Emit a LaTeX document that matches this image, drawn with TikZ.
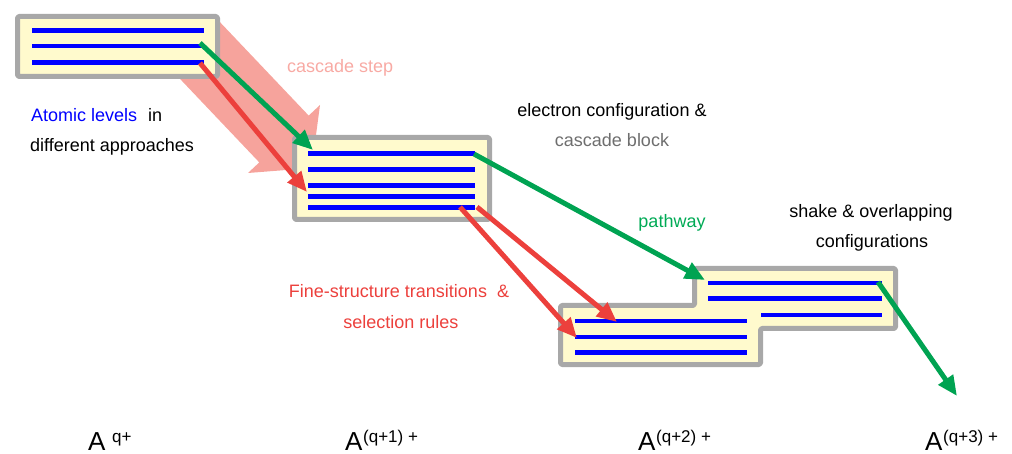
\documentclass[tikz,border=0pt]{standalone}
\usepackage{fontspec}
\setmainfont{Liberation Sans}
\usetikzlibrary{arrows.meta}
\definecolor{boxfill}{RGB}{255,250,205}
\definecolor{boxgray}{RGB}{168,168,168}
\definecolor{lvlblue}{RGB}{0,0,255}
\definecolor{pathgreen}{RGB}{0,163,82}
\definecolor{transred}{RGB}{236,64,60}
\definecolor{cascpink}{RGB}{246,163,156}
\definecolor{casctext}{RGB}{248,170,164}
\definecolor{blocktext}{RGB}{110,110,110}
\definecolor{pathtext}{RGB}{0,170,85}
\tikzset{
  cfgbox/.style={fill=boxfill, draw=boxgray, line width=5pt, rounded corners=1.5pt, line join=round},
  level/.style={draw=lvlblue, line width=4.5pt},
  greenarrow/.style={draw=pathgreen, line width=5pt, -{Triangle[length=20pt,width=17pt]}},
  redarrow/.style={draw=transred, line width=5pt, -{Triangle[length=20pt,width=17pt]}},
  lbl/.style={font=\fontsize{18}{22}\selectfont, inner sep=0pt, anchor=base},
  ionA/.style={font=\fontsize{26}{30}\selectfont, inner sep=0pt, anchor=base west},
  ionsup/.style={font=\fontsize{17}{20}\selectfont, inner sep=0pt, anchor=base west}
}
\begin{document}
\begin{tikzpicture}[x=1pt,y=-1pt]
\useasboundingbox (0,0) rectangle (1012,454);
% cascade step (wide pink arrow)
\fill[cascpink] (214.7,16.6) -- (308.7,115.6) -- (320,105) -- (311.6,168) -- (248,173) -- (259.3,162.4) -- (165.3,63.4) -- cycle;
% boxes
\path[cfgbox] (17.5,16.5) rectangle (217.5,76.5);
\path[cfgbox] (294.5,137.5) rectangle (489.5,219.5);
\path[cfgbox] (560.5,305.5) -- (694.5,305.5) -- (694.5,268.5) -- (895.5,268.5) -- (895.5,328.5) -- (760.5,328.5) -- (760.5,364.5) -- (560.5,364.5) -- cycle;
% levels box 1
\draw[level] (32,30.5) -- (204,30.5);
\draw[level] (32,46) -- (204,46);
\draw[level] (32,62.5) -- (204,62.5);
% levels box 2
\draw[level] (308,153.5) -- (475,153.5);
\draw[level] (308,169.3) -- (475,169.3);
\draw[level] (308,185.3) -- (475,185.3);
\draw[level] (308,196.3) -- (475,196.3);
\draw[level] (308,207.3) -- (475,207.3);
% levels box 3
\draw[level] (575,321) -- (747,321);
\draw[level] (575,337) -- (747,337);
\draw[level] (575,352.5) -- (747,352.5);
\draw[level] (708,283) -- (882,283);
\draw[level] (708,298.5) -- (882,298.5);
\draw[level] (761,315) -- (882,315);
% connector end points
\coordinate (g1s) at (200,43);
\coordinate (g1e) at (313,150);
\coordinate (r1s) at (200,63);
\coordinate (r1e) at (307,192);
\coordinate (g2s) at (474,154);
\coordinate (g2e) at (705,280);
\coordinate (r2s) at (477,207);
\coordinate (r2e) at (617,322);
\coordinate (r3s) at (460,207);
\coordinate (r3e) at (577,338);
\coordinate (g3s) at (878,282);
\coordinate (g3e) at (957,396);
\draw[greenarrow] (g1s) -- (g1e);
\draw[redarrow] (r1s) -- (r1e);
\draw[greenarrow] (g2s) -- (g2e);
\draw[redarrow] (r2s) -- (r2e);
\draw[redarrow] (r3s) -- (r3e);
\draw[greenarrow] (g3s) -- (g3e);
% labels
\node[lbl, text=casctext, anchor=base west] (tcs) at (287,73) {cascade step};
\node[lbl, anchor=base west] (tal) at (31,122) {\textcolor{lvlblue}{Atomic levels}\hspace{11pt}in};
\node[lbl, anchor=base west] (tda) at (30,152) {different approaches};
\node[lbl] (tec) at (612,117) {electron configuration \&};
\node[lbl, text=blocktext] (tcb) at (612,147) {cascade block};
\node[lbl, text=pathtext] (tpw) at (672,228) {pathway};
\node[lbl] (tsh) at (871,218) {shake \& overlapping};
\node[lbl] (tco) at (872,248) {configurations};
\node[lbl, text=transred] (tfs) at (399,298) {Fine-structure transitions\hspace{10pt}\&};
\node[lbl, text=transred] (tsr) at (401,328) {selection rules};
% ion charge states
\node[ionA] (a0) at (88,450) {A};
\node[ionsup] (s0) at (112,442) {q+};
\node[ionA] (a1) at (345,450) {A};
\node[ionsup] (s1) at (363,442) {(q+1) +};
\node[ionA] (a2) at (638,450) {A};
\node[ionsup] (s2) at (656,442) {(q+2) +};
\node[ionA] (a3) at (925,450) {A};
\node[ionsup] (s3) at (943,442) {(q+3) +};
\end{tikzpicture}
\end{document}
